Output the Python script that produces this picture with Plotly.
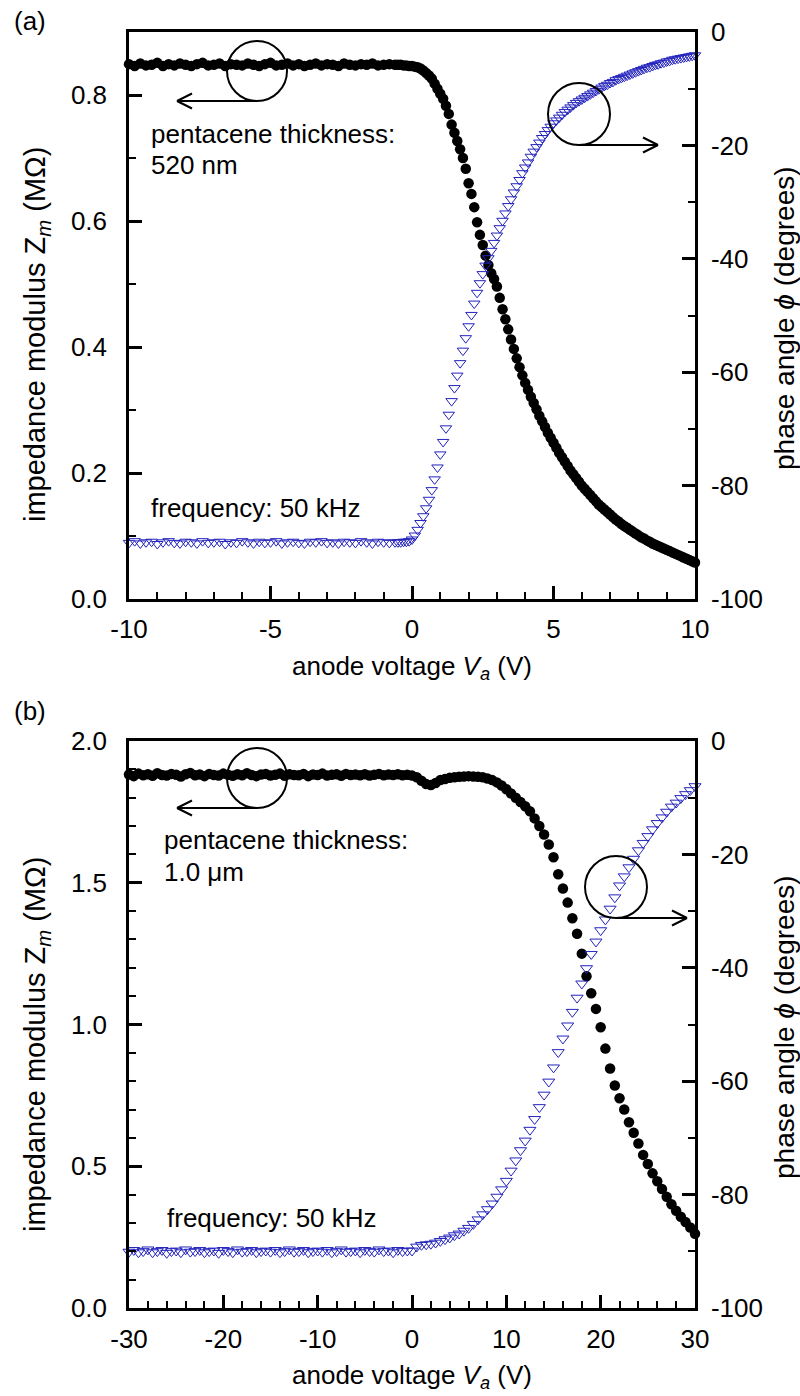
import numpy as np
import plotly.graph_objects as go

W, H = 800, 1396

# ---------------- panel (a) data ----------------
V_top = list(np.round(np.arange(-10, -0.59, 0.2), 2)) + list(np.round(np.arange(-0.5, 10.01, 0.1), 2))

Z_top = [0.849, 0.846, 0.850, 0.847, 0.848, 0.851, 0.846, 0.849, 0.847, 0.850,
         0.848, 0.846, 0.849, 0.851, 0.847, 0.848, 0.850, 0.846, 0.849, 0.848,
         0.847, 0.850, 0.848, 0.846, 0.849, 0.851, 0.847, 0.848, 0.850, 0.847,
         0.849, 0.846, 0.848, 0.850, 0.847, 0.849, 0.848, 0.846, 0.850, 0.848,
         0.847, 0.849, 0.848, 0.850, 0.847, 0.848, 0.849, 0.848,
         0.848, 0.848, 0.847, 0.847, 0.846, 0.846, 0.845, 0.844, 0.842, 0.839,
         0.835, 0.831, 0.826, 0.818, 0.810, 0.802, 0.794, 0.783, 0.770, 0.753,
         0.740, 0.727, 0.714, 0.700, 0.683, 0.660, 0.643, 0.622, 0.598, 0.578,
         0.562, 0.545, 0.530, 0.517, 0.508, 0.496, 0.478, 0.460, 0.444, 0.428,
         0.412, 0.397, 0.382, 0.368, 0.355, 0.343, 0.332, 0.321, 0.311, 0.301,
         0.291, 0.282, 0.273, 0.264, 0.256, 0.248, 0.240, 0.232, 0.225, 0.218,
         0.211, 0.204, 0.198, 0.192, 0.186, 0.180, 0.175, 0.170, 0.165, 0.160,
         0.155, 0.150, 0.146, 0.142, 0.138, 0.134, 0.130, 0.126, 0.123, 0.119,
         0.116, 0.113, 0.110, 0.107, 0.104, 0.101, 0.098, 0.096, 0.093, 0.091,
         0.088, 0.086, 0.084, 0.082, 0.080, 0.078, 0.076, 0.074, 0.072, 0.070,
         0.068, 0.066, 0.064, 0.062, 0.060, 0.058]

phi_top = [-90.1, -89.8, -90.2, -90.0, -89.9, -90.3, -90.0, -89.8, -90.1, -90.2,
           -89.9, -90.0, -90.2, -89.8, -90.1, -90.0, -89.9, -90.3, -90.0, -90.1,
           -89.8, -90.0, -90.2, -89.9, -90.1, -90.0, -89.8, -90.2, -90.0, -89.9,
           -90.1, -90.2, -89.9, -90.0, -89.8, -90.1, -90.0, -90.2, -89.9, -90.0,
           -90.1, -89.8, -90.0, -90.2, -89.9, -90.0, -90.1, -90.0,
           -90.0, -90.0, -89.9, -89.9, -89.8, -89.5, -88.8, -87.8, -86.6, -85.4,
           -84.0, -82.5, -80.8, -78.9, -76.8, -74.5, -72.3, -69.9, -67.5, -65.1,
           -62.8, -60.6, -58.4, -56.2, -54.0, -51.9, -49.9, -47.9, -46.0, -44.3,
           -42.7, -41.2, -39.9, -38.6, -37.2, -35.9, -34.6, -33.3, -32.0, -30.7,
           -29.5, -28.3, -27.2, -26.1, -24.9, -23.9, -23.0, -22.0, -21.1, -20.3,
           -19.5, -18.7, -18.0, -17.3, -16.7, -16.1, -15.6, -15.1, -14.6, -14.1,
           -13.7, -13.3, -12.9, -12.5, -12.2, -11.9, -11.6, -11.3, -11.0, -10.7,
           -10.4, -10.1, -9.8, -9.5, -9.3, -9.0, -8.8, -8.5, -8.3, -8.1,
           -7.9, -7.7, -7.5, -7.3, -7.1, -6.9, -6.7, -6.5, -6.3, -6.2,
           -6.0, -5.8, -5.7, -5.5, -5.4, -5.2, -5.1, -4.9, -4.8, -4.7,
           -4.6, -4.5, -4.4, -4.3, -4.2, -4.1]

# ---------------- panel (b) data ----------------
V_bot = list(np.round(np.arange(-30, 30.01, 0.5), 2))

Z_bot = [1.882, 1.876, 1.885, 1.879, 1.883, 1.877, 1.886, 1.880, 1.878, 1.884,
         1.881, 1.875, 1.883, 1.887, 1.879, 1.882, 1.876, 1.884, 1.880, 1.878,
         1.885, 1.881, 1.877, 1.883, 1.879, 1.886, 1.880, 1.876, 1.882, 1.884,
         1.878, 1.881, 1.885, 1.877, 1.883, 1.880, 1.879, 1.884, 1.876, 1.882,
         1.880, 1.885, 1.878, 1.881, 1.883, 1.877, 1.884, 1.880, 1.882, 1.879,
         1.883, 1.878, 1.881, 1.884, 1.879, 1.882, 1.880, 1.883, 1.879, 1.881,
         1.878, 1.872, 1.860, 1.848, 1.845, 1.852, 1.862, 1.866, 1.870, 1.872,
         1.874, 1.875, 1.876, 1.875, 1.874, 1.872, 1.868, 1.862, 1.854, 1.843,
         1.830, 1.815, 1.800, 1.785, 1.770, 1.752, 1.727, 1.700, 1.670, 1.635,
         1.590, 1.530, 1.480, 1.430, 1.375, 1.320, 1.250, 1.170, 1.110, 1.055,
         0.990, 0.915, 0.845, 0.785, 0.740, 0.700, 0.655, 0.618, 0.580, 0.540,
         0.508, 0.475, 0.447, 0.420, 0.392, 0.366, 0.343, 0.322, 0.303, 0.284,
         0.262]

phi_bot = [-90.1, -89.8, -90.2, -90.0, -89.7, -90.2, -90.0, -89.8, -90.3, -90.0,
           -89.9, -90.2, -89.7, -90.1, -90.0, -89.8, -90.2, -90.0, -89.9, -90.3,
           -89.8, -90.0, -90.2, -89.7, -90.1, -90.0, -89.8, -90.2, -90.0, -89.9,
           -90.1, -89.8, -90.2, -90.0, -89.7, -90.1, -90.0, -89.8, -90.2, -90.0,
           -89.9, -90.1, -89.8, -90.2, -90.0, -89.7, -90.1, -90.0, -89.9, -90.2,
           -89.8, -90.0, -90.1, -89.7, -90.0, -89.9, -90.2, -89.8, -90.0, -89.9,
           -89.9, -89.2, -88.9, -88.8, -88.7, -88.5, -88.2, -87.9, -87.6, -87.2,
           -86.9, -86.4, -85.9, -85.2, -84.4, -83.5, -82.6, -81.6, -80.4, -79.1,
           -77.6, -75.8, -74.0, -72.2, -70.5, -68.6, -66.7, -64.6, -62.4, -60.1,
           -57.6, -54.9, -52.5, -50.2, -47.8, -45.3, -42.8, -40.1, -37.6, -35.4,
           -33.4, -31.5, -29.6, -27.6, -25.5, -23.9, -22.3, -20.8, -19.3, -18.0,
           -16.8, -15.6, -14.5, -13.5, -12.5, -11.6, -10.9, -10.1, -9.4, -8.7,
           -8.0]

# ---------------- tick labels ----------------
xticks_a = [-10, -5, 0, 5, 10]
xticklabels_a = ["-10", "-5", "0", "5", "10"]
xticks_b = [-30, -20, -10, 0, 10, 20, 30]
xticklabels_b = ["-30", "-20", "-10", "0", "10", "20", "30"]
zticks_a = [0.0, 0.2, 0.4, 0.6, 0.8]
zticklabels_a = ["0.0", "0.2", "0.4", "0.6", "0.8"]
zticks_b = [0.0, 0.5, 1.0, 1.5, 2.0]
zticklabels_b = ["0.0", "0.5", "1.0", "1.5", "2.0"]
phiticks = [-100, -80, -60, -40, -20, 0]
philabels = ["-100", "-80", "-60", "-40", "-20", "0"]

FONT = "Liberation Sans, Arial, sans-serif"
BLUE = "#2323bd"

fig = go.Figure()
fig.add_trace(go.Scatter(x=V_top, y=Z_top, mode="markers", xaxis="x", yaxis="y",
                         marker=dict(symbol="circle", size=10.5, color="black"),
                         cliponaxis=False, showlegend=False))
fig.add_trace(go.Scatter(x=V_top, y=phi_top, mode="markers", xaxis="x", yaxis="y2",
                         marker=dict(symbol="triangle-down-open", size=10, color=BLUE,
                                     line=dict(width=1, color=BLUE)),
                         cliponaxis=False, showlegend=False))
fig.add_trace(go.Scatter(x=V_bot, y=Z_bot, mode="markers", xaxis="x2", yaxis="y3",
                         marker=dict(symbol="circle", size=10.5, color="black"),
                         cliponaxis=False, showlegend=False))
fig.add_trace(go.Scatter(x=V_bot, y=phi_bot, mode="markers", xaxis="x2", yaxis="y4",
                         marker=dict(symbol="triangle-down-open", size=10.5, color=BLUE,
                                     line=dict(width=1, color=BLUE)),
                         cliponaxis=False, showlegend=False))

xdom = [129 / W, 695 / W]
ydom_a = [1 - 599 / H, 1 - 32 / H]
ydom_b = [1 - 1308 / H, 1 - 741 / H]

tickfont = dict(family=FONT, size=26, color="black")


def axis_common(**kw):
    d = dict(showline=True, linewidth=2.5, linecolor="black", ticks="inside",
             ticklen=13, tickwidth=2.5, tickcolor="black", showgrid=False,
             zeroline=False, tickfont=tickfont, automargin=False, tickmode="array")
    d.update(kw)
    return d


def minor(t0, dt):
    return dict(tick0=t0, dtick=dt, ticks="inside", ticklen=7, tickwidth=1.5,
                tickcolor="black", showgrid=False)


fig.update_layout(
    width=W, height=H,
    margin=dict(l=0, r=0, t=0, b=0),
    paper_bgcolor="white", plot_bgcolor="white",
    font=dict(family=FONT, size=26, color="black"),
    xaxis=axis_common(domain=xdom, anchor="y", range=[-10, 10],
                      tickvals=xticks_a, ticktext=xticklabels_a,
                      minor=minor(0, 1), mirror=True, ticklabelstandoff=5),
    yaxis=axis_common(domain=ydom_a, anchor="x", range=[0, 0.9],
                      tickvals=zticks_a, ticktext=zticklabels_a,
                      minor=minor(0, 0.1), ticklabelstandoff=14),
    yaxis2=axis_common(overlaying="y", anchor="x", side="right", range=[-100, 0],
                       tickvals=phiticks, ticktext=philabels,
                       minor=minor(0, 10), ticklabelstandoff=8),
    xaxis2=axis_common(domain=xdom, anchor="y3", range=[-30, 30],
                       tickvals=xticks_b, ticktext=xticklabels_b,
                       minor=minor(0, 2), mirror=True, ticklabelstandoff=6),
    yaxis3=axis_common(domain=ydom_b, anchor="x2", range=[0, 2.0],
                       tickvals=zticks_b, ticktext=zticklabels_b,
                       minor=minor(0, 0.1), ticklabelstandoff=14),
    yaxis4=axis_common(overlaying="y3", anchor="x2", side="right", range=[-100, 0],
                       tickvals=phiticks, ticktext=philabels,
                       minor=minor(0, 10), ticklabelstandoff=8),
)


def P(X, Y):
    return X / W, 1 - Y / H


annotations = []


def text(X, Y, s, size=26, angle=0, xanchor="left"):
    x, y = P(X, Y)
    annotations.append(dict(x=x, y=y, xref="paper", yref="paper", text=s, showarrow=False,
                            xanchor=xanchor, yanchor="middle", textangle=angle,
                            font=dict(family=FONT, size=size, color="black")))


# panel labels
text(12, 21, "(a)")
text(12, 711, "(b)")
# in-plot notes
text(149, 134, "pentacene thickness:")
text(149, 165, "520 nm")
text(149, 508, "frequency: 50 kHz")
text(162, 840, "pentacene thickness:")
text(162, 872, "1.0 μm")
text(165, 1218, "frequency: 50 kHz")
# axis titles
xt = "anode voltage <i>V<sub>a</sub></i> (V)"
yl = "impedance modulus Z<sub><i>m</i></sub> (MΩ)"
yr = "phase angle <i>ϕ</i> (degrees)"
text(412, 667, xt, xanchor="center")
text(412, 1376, xt, xanchor="center")
text(37, 335, yl, size=29, angle=-90, xanchor="center")
text(37, 1045, yl, size=29, angle=-90, xanchor="center")
text(784, 318, yr, size=28, angle=-90, xanchor="center")
text(784, 1027, yr, size=28, angle=-90, xanchor="center")

shapes = []


def circle(cx, cy, r):
    x0, y0 = P(cx - r, cy + r)
    x1, y1 = P(cx + r, cy - r)
    shapes.append(dict(type="circle", xref="paper", yref="paper", x0=x0, y0=y0, x1=x1, y1=y1,
                       line=dict(color="black", width=2)))


def seg(Xa, Ya, Xb, Yb):
    x0, y0 = P(Xa, Ya)
    x1, y1 = P(Xb, Yb)
    shapes.append(dict(type="line", xref="paper", yref="paper", x0=x0, y0=y0, x1=x1, y1=y1,
                       line=dict(color="black", width=2)))


def arrow(Xs, Xe, Y):
    seg(Xs, Y, Xe, Y)
    d = 15 if Xe > Xs else -15
    seg(Xe, Y, Xe - d, Y - 7.5)
    seg(Xe, Y, Xe - d, Y + 7.5)


circle(257, 71, 30)
arrow(257, 177, 101)
circle(579, 114, 31)
arrow(579, 658, 145)
circle(257, 778, 30)
arrow(257, 177, 808)
circle(616, 887, 31)
arrow(616, 687, 918)

fig.update_layout(annotations=annotations, shapes=shapes)

fig.write_html("out.html")
